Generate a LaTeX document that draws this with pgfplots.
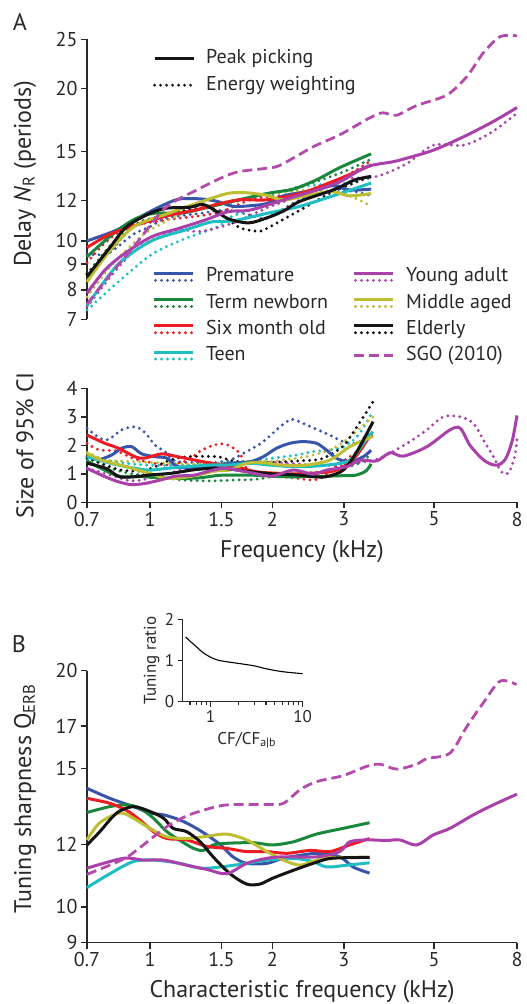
\documentclass[border=0pt]{standalone}
\usepackage{fontspec}
\setmainfont{PT Sans}
\usepackage{pgfplots}
\pgfplotsset{compat=1.18}

\definecolor{cpre}{RGB}{55,85,170}
\definecolor{cterm}{RGB}{25,135,60}
\definecolor{csix}{RGB}{237,28,36}
\definecolor{cteen}{RGB}{30,190,195}
\definecolor{cyoung}{RGB}{170,65,170}
\definecolor{cmid}{RGB}{190,190,50}
\definecolor{celd}{RGB}{20,20,20}
\definecolor{csgo}{RGB}{180,75,170}
\definecolor{axc}{RGB}{40,40,40}

\tikzset{
 sol/.style={line width=3pt, solid},
 dotl/.style={line width=3.2pt, line cap=round, dash pattern=on 0pt off 6pt},
 dsh/.style={line width=2.8pt, dash pattern=on 10pt off 5pt},
}

\pgfplotsset{
 mylook/.style={scale only axis, clip=false,
   axis line style={line width=1.4pt, axc}, tick style={line width=1.4pt, axc},
   major tick length=6pt, tick align=outside, minor tick length=0pt,
   tick label style={font=\fontsize{20}{22}\selectfont, text=axc},
   every axis label/.append style={font=\fontsize{24}{26}\selectfont, text=axc},
 },
}

\newcommand{\dbl}[1]{\addlegendimage{legend image code/.code={\draw[#1,sol] (0pt,3.4pt)--(39pt,3.4pt); \draw[#1,dotl] (1pt,-3.4pt)--(39pt,-3.4pt);}}}
\newcommand{\sgl}[1]{\addlegendimage{legend image code/.code={\draw[#1] (0pt,0pt)--(39pt,0pt);}}}

\begin{document}
\begin{tikzpicture}
\useasboundingbox (0,0) rectangle (527pt,-1004pt);

\node[font=\fontsize{24}{26}\selectfont, text=axc] at (20pt,-22pt) {A};
\node[font=\fontsize{24}{26}\selectfont, text=axc] at (19pt,-644pt) {B};

\begin{axis}[mylook, xmode=log, xmin=0.7, xmax=8,
  at={(87pt,-319.3pt)}, anchor=south west, width=430pt, height=280pt,
  ymode=log, ymin=7, ymax=25, hide x axis, axis y line*=left,
  ytick={7,8,9,10,12,15,20,25}, yticklabels={7,8,9,10,12,15,20,25},
  ylabel={Delay \textit{N}\textsubscript{R} (periods)},
  ylabel style={at={(axis description cs:-0.144,0.52)}, anchor=center}]
\addplot[cpre, dotl, smooth] coordinates {(0.7,9.4)(0.79,9.45)(0.909,10.3)(1.0,10.66)(1.1,11.1)(1.33,11.33)(1.545,11.5)(1.8,11.2)(1.94,11.1)(2.34,12.05)(2.82,12.6)(3.2,12.5)(3.5,12.27)};
\addplot[cterm, dotl, smooth] coordinates {(0.7,8.6)(0.8,9.8)(0.9,10.6)(1.0,11.0)(1.2,11.4)(1.5,11.8)(2,12.4)(2.5,13.0)(3,13.7)(3.5,14.5)};
\addplot[csix, dotl, smooth] coordinates {(0.7,9.05)(0.775,9.9)(0.885,10.66)(1.1,11.0)(1.46,11.35)(1.8,12.1)(2.34,12.4)(2.82,12.98)(3.5,14.4)};
\addplot[cteen, dotl, smooth] coordinates {(0.7,7.3)(0.836,8.3)(1.01,9.4)(1.22,10.1)(1.47,10.66)(1.6,11.2)(2.0,11.85)(2.3,12.7)(2.6,12.9)(3.0,13.0)(3.5,13.3)};
\addplot[cmid, dotl, smooth] coordinates {(0.7,7.75)(0.8,8.9)(0.9,9.8)(1.0,10.5)(1.2,11.3)(1.5,11.9)(2.0,12.4)(2.5,12.6)(3.0,12.4)(3.5,11.7)};
\addplot[celd, dotl, smooth] coordinates {(0.7,8.6)(0.79,9.45)(0.919,10.75)(1.06,11.2)(1.22,11.5)(1.42,11.6)(1.56,11.0)(1.68,10.58)(1.85,10.45)(1.94,10.58)(2.34,11.5)(2.82,12.5)(3.5,13.4)};
\addplot[cyoung, dotl, smooth] coordinates {(0.7,7.4)(0.8,8.5)(0.893,9.38)(1.0,10.0)(1.186,10.5)(1.33,10.43)(1.6,10.84)(1.937,11.61)(2.34,12.27)(2.99,13.21)(3.61,13.4)(4.28,14.2)(4.98,15.45)(5.91,15.45)(6.86,16.3)(8.0,17.86)};
\addplot[cpre, sol, smooth] coordinates {(0.7,10.0)(0.828,10.5)(0.982,11.33)(1.1,11.85)(1.186,12.1)(1.33,12.1)(1.46,11.97)(1.6,11.7)(1.763,11.73)(1.94,11.85)(2.13,12.27)(2.57,12.6)(2.82,12.85)(3.1,12.6)(3.5,12.65)};
\addplot[cterm, sol, smooth] coordinates {(0.7,9.3)(0.797,10.2)(0.909,11.0)(1.02,11.33)(1.2,11.35)(1.36,11.6)(1.6,11.97)(1.94,12.4)(2.25,12.65)(2.57,13.2)(2.93,13.95)(3.5,14.85)};
\addplot[csix, sol, smooth] coordinates {(0.7,9.7)(0.797,10.3)(0.945,10.8)(1.1,11.2)(1.29,11.5)(1.46,11.8)(1.665,12.05)(1.94,12.05)(2.34,12.4)(2.82,13.1)(3.5,14.1)};
\addplot[cteen, sol, smooth] coordinates {(0.7,7.45)(0.836,9.0)(1.01,10.0)(1.22,10.5)(1.42,10.9)(1.6,10.95)(1.94,11.33)(2.34,11.7)(2.82,12.27)(3.5,13.0)};
\addplot[cmid, sol, smooth] coordinates {(0.7,8.3)(0.8,9.6)(0.919,10.7)(1.11,11.33)(1.34,11.95)(1.55,12.4)(1.71,12.45)(1.94,12.3)(2.13,12.05)(2.57,12.4)(2.82,12.5)(3.1,12.27)(3.5,12.4)};
\addplot[celd, sol, smooth] coordinates {(0.7,8.5)(0.797,9.7)(0.876,10.66)(1.0,11.33)(1.1,11.6)(1.25,11.65)(1.35,11.8)(1.44,11.5)(1.56,11.05)(1.75,10.85)(1.94,11.1)(2.13,11.45)(2.34,11.97)(2.82,12.6)(3.2,13.2)(3.5,13.4)};
\addplot[cyoung, sol, smooth] coordinates {(0.7,7.88)(0.775,8.76)(0.868,9.45)(1.01,10.19)(1.177,10.58)(1.366,10.99)(1.559,11.42)(1.763,11.5)(2.128,12.04)(2.57,12.6)(2.93,13.08)(3.414,14.0)(3.97,14.33)(4.28,14.56)(4.98,15.1)(5.91,16.05)(6.99,17.2)(8.0,18.33)};
\addplot[csgo, dsh, smooth] coordinates {(0.7,7.5)(0.797,8.56)(0.919,9.81)(1.089,11.6)(1.303,12.6)(1.601,13.6)(1.919,13.9)(2.09,14.1)(2.519,15.33)(2.933,16.2)(3.477,17.5)(3.74,17.9)(4.04,17.7)(4.53,18.5)(5.37,19.4)(6.02,21.1)(6.61,23.5)(7.27,25.3)(8.0,25.4)};
\end{axis}

\begin{axis}[mylook, xmode=log, xmin=0.7, xmax=8,
  at={(87pt,-502.3pt)}, anchor=south west, width=430pt, height=114pt,
  ymin=0, ymax=4, axis x line*=bottom, axis y line*=left,
  xtick={0.7,1,1.5,2,3,5,8}, xticklabels={0.7,1,1.5,2,3,5,8},
  ytick={0,1,2,3,4}, yticklabels={0,1,2,3,4},
  xlabel={Frequency (kHz)}, ylabel={Size of 95\% CI},
  ylabel style={at={(axis description cs:-0.144,0.5)}, anchor=center},
  xlabel style={at={(axis description cs:0.5,-0.436)}, anchor=center}]
\addplot[cpre, dotl, smooth] coordinates {(0.7,2.6)(0.753,2.25)(0.79,2.2)(0.852,2.54)(0.919,2.65)(0.972,2.45)(1.03,2.0)(1.09,1.78)(1.15,1.45)(1.3,1.4)(1.45,1.4)(1.574,1.48)(1.73,1.78)(1.9,2.13)(2.09,2.65)(2.23,2.91)(2.38,2.77)(2.57,2.56)(2.77,2.36)(2.99,2.13)(3.23,2.07)(3.35,2.25)(3.5,2.4)};
\addplot[cterm, dotl, smooth] coordinates {(0.7,1.6)(0.8,1.2)(0.9,1.0)(1.0,0.95)(1.1,0.85)(1.2,0.78)(1.4,0.75)(1.6,0.78)(1.8,0.8)(2.0,0.9)(2.3,1.0)(2.6,1.07)(3.0,1.2)(3.3,1.4)(3.5,1.7)};
\addplot[csix, dotl, smooth] coordinates {(0.7,2.07)(0.75,1.84)(0.828,1.8)(0.908,1.54)(1.0,1.4)(1.1,1.31)(1.23,1.46)(1.33,1.8)(1.43,2.0)(1.5,2.05)(1.56,2.0)(1.665,1.72)(1.73,1.19)(1.9,1.0)(2.1,0.9)(2.3,0.84)(2.52,0.78)(2.67,0.9)(2.93,1.37)(3.23,1.78)(3.5,2.42)};
\addplot[cteen, dotl, smooth] coordinates {(0.7,1.5)(0.8,1.45)(0.9,1.35)(1.0,1.3)(1.2,1.3)(1.4,1.35)(1.6,1.4)(1.8,1.45)(2.0,1.55)(2.3,1.66)(2.52,1.78)(2.77,1.84)(3.0,1.95)(3.23,2.3)(3.4,2.77)(3.54,3.2)};
\addplot[cmid, dotl, smooth] coordinates {(0.7,1.75)(0.775,1.5)(0.85,1.45)(1.0,1.4)(1.2,1.35)(1.4,1.35)(1.6,1.4)(1.8,1.45)(2.0,1.45)(2.3,1.55)(2.52,1.66)(2.77,1.84)(3.0,2.13)(3.35,2.7)(3.54,3.0)};
\addplot[celd, dotl, smooth] coordinates {(0.7,1.55)(0.78,1.3)(0.85,1.13)(0.95,1.1)(1.03,1.25)(1.12,1.48)(1.23,1.6)(1.47,1.6)(1.6,1.45)(1.8,1.4)(2.0,1.4)(2.3,1.45)(2.6,1.5)(2.77,1.66)(3.0,2.0)(3.23,2.65)(3.54,3.53)};
\addplot[cyoung, dotl, smooth] coordinates {(0.7,1.2)(0.8,0.95)(0.9,0.75)(1.0,0.85)(1.1,1.0)(1.25,1.2)(1.5,1.3)(1.8,1.4)(2.0,1.4)(2.3,1.35)(2.6,1.3)(3.0,1.3)(3.3,1.4)(3.6,1.5)(3.96,1.78)(4.36,2.13)(4.8,2.54)(5.27,3.0)(5.8,3.0)(6.25,2.77)(6.61,2.19)(7.0,1.6)(7.33,1.07)(7.62,1.02)(7.9,1.6)(8.0,2.25)};
\addplot[cpre, sol, smooth] coordinates {(0.7,1.65)(0.746,1.5)(0.805,1.66)(0.852,1.9)(0.902,1.95)(0.954,1.7)(1.03,1.6)(1.1,1.55)(1.17,1.25)(1.3,1.2)(1.45,1.3)(1.574,1.37)(1.76,1.42)(1.9,1.6)(2.05,1.9)(2.21,2.07)(2.38,2.13)(2.57,2.07)(2.72,1.83)(2.88,1.54)(3.1,1.42)(3.35,1.6)(3.5,1.83)};
\addplot[cterm, sol, smooth] coordinates {(0.7,1.45)(0.78,1.1)(0.85,0.9)(0.95,0.9)(1.1,0.85)(1.3,0.85)(1.5,0.95)(1.8,0.95)(2.1,0.9)(2.5,0.9)(2.9,0.93)(3.2,0.95)(3.4,1.1)(3.5,1.35)};
\addplot[csix, sol, smooth] coordinates {(0.7,2.36)(0.775,2.07)(0.836,1.9)(0.919,1.6)(0.97,1.55)(1.07,1.7)(1.17,1.6)(1.29,1.48)(1.42,1.37)(1.62,1.25)(1.83,1.07)(2.05,1.02)(2.3,1.0)(2.77,1.07)(2.99,1.25)(3.23,1.66)(3.45,2.25)(3.54,2.36)};
\addplot[cteen, sol, smooth] coordinates {(0.7,1.6)(0.8,1.37)(0.92,1.19)(1.0,1.13)(1.1,1.19)(1.23,1.25)(1.42,1.31)(1.57,1.31)(1.76,1.37)(2.0,1.3)(2.3,1.25)(2.7,1.3)(3.1,1.48)(3.4,2.2)(3.54,2.48)};
\addplot[cmid, sol, smooth] coordinates {(0.7,1.72)(0.76,1.48)(0.85,1.3)(0.95,1.1)(1.0,1.02)(1.1,0.84)(1.25,0.9)(1.45,1.1)(1.57,1.13)(1.73,1.37)(1.9,1.39)(2.09,1.31)(2.4,1.3)(2.77,1.48)(3.1,1.95)(3.45,2.25)(3.54,2.3)};
\addplot[celd, sol, smooth] coordinates {(0.7,1.37)(0.78,1.19)(0.84,0.9)(0.92,0.9)(1.0,0.96)(1.13,1.02)(1.3,1.15)(1.5,1.2)(1.7,1.1)(2.0,1.0)(2.3,0.96)(2.52,0.9)(2.72,0.9)(2.99,1.13)(3.23,1.78)(3.54,2.83)};
\addplot[cyoung, sol, smooth] coordinates {(0.7,1.19)(0.775,0.9)(0.836,0.72)(0.9,0.62)(0.97,0.66)(1.06,0.78)(1.16,0.92)(1.28,0.95)(1.43,1.13)(1.545,1.19)(1.8,1.02)(2.0,0.92)(2.25,1.13)(2.52,0.99)(2.72,1.13)(3.05,1.25)(3.29,1.48)(3.61,1.45)(3.9,1.74)(4.2,1.62)(4.8,1.95)(5.47,2.54)(5.8,2.6)(6.13,2.0)(6.6,1.5)(7.0,1.31)(7.3,1.35)(7.55,1.6)(7.8,2.2)(8.0,3.05)};
\end{axis}

\begin{axis}[mylook, xmode=log, xmin=0.7, xmax=8,
  at={(87pt,-942.7pt)}, anchor=south west, width=430pt, height=272pt,
  ymode=log, ymin=9, ymax=20, axis x line*=bottom, axis y line*=left,
  xtick={0.7,1,1.5,2,3,5,8}, xticklabels={0.7,1,1.5,2,3,5,8},
  ytick={9,10,12,15,17,20}, yticklabels={9,10,12,15,17,20},
  xlabel={Characteristic frequency (kHz)}, ylabel={Tuning sharpness Q\textsubscript{ERB}},
  ylabel style={at={(axis description cs:-0.144,0.53)}, anchor=center},
  xlabel style={at={(axis description cs:0.5,-0.181)}, anchor=center}]
\addplot[cpre, sol, smooth] coordinates {(0.7,14.16)(0.797,13.75)(0.91,13.42)(1.0,13.17)(1.08,13.1)(1.186,12.9)(1.28,12.65)(1.38,12.35)(1.49,12.0)(1.6,11.58)(1.73,11.36)(1.94,11.36)(2.13,11.53)(2.57,11.7)(2.93,11.58)(3.16,11.24)(3.47,11.04)};
\addplot[cterm, sol, smooth] coordinates {(0.7,13.19)(0.797,13.42)(0.876,13.49)(0.945,13.35)(1.02,12.97)(1.1,12.47)(1.186,12.15)(1.28,11.87)(1.353,11.8)(1.43,11.99)(1.545,12.05)(1.8,12.07)(2.0,11.99)(2.25,12.1)(2.57,12.38)(2.99,12.59)(3.47,12.8)};
\addplot[csix, sol, smooth] coordinates {(0.7,13.75)(0.797,13.55)(0.876,13.27)(0.945,12.9)(1.02,12.47)(1.1,12.22)(1.23,12.17)(1.38,11.94)(1.545,11.87)(1.73,11.76)(1.94,11.76)(2.17,11.7)(2.48,11.8)(2.77,11.76)(3.1,11.99)(3.47,12.22)};
\addplot[cteen, sol, smooth] coordinates {(0.7,10.58)(0.797,11.02)(0.91,11.42)(1.02,11.47)(1.186,11.36)(1.33,11.2)(1.49,11.24)(1.73,11.36)(1.94,11.47)(2.25,11.53)(2.52,11.42)(2.72,11.24)(3.05,11.3)(3.47,11.38)};
\addplot[cmid, sol, smooth] coordinates {(0.7,12.17)(0.753,12.8)(0.844,13.17)(0.91,12.97)(1.0,12.59)(1.1,12.28)(1.23,12.22)(1.38,12.3)(1.545,12.38)(1.73,12.17)(1.94,11.76)(2.13,11.47)(2.34,11.3)(2.57,11.47)(2.8,11.56)(3.47,11.56)};
\addplot[celd, sol, smooth] coordinates {(0.7,11.99)(0.753,12.47)(0.828,13.17)(0.91,13.42)(1.0,13.23)(1.08,12.97)(1.14,12.59)(1.23,12.47)(1.33,12.1)(1.43,11.58)(1.574,11.02)(1.73,10.69)(1.865,10.69)(2.0,10.87)(2.21,11.09)(2.52,11.36)(2.8,11.53)(3.47,11.56)};
\addplot[cyoung, sol, smooth] coordinates {(0.7,11.2)(0.86,11.53)(0.963,11.47)(1.08,11.47)(1.23,11.3)(1.38,11.16)(1.545,11.02)(1.73,11.36)(1.94,11.53)(2.13,11.58)(2.57,11.58)(2.93,11.76)(3.1,12.1)(3.41,12.17)(3.82,12.15)(4.12,12.17)(4.53,11.99)(4.98,12.35)(5.47,12.59)(6.25,13.1)(7.0,13.49)(8.0,13.92)};
\addplot[csgo, dsh, smooth] coordinates {(0.7,11.0)(0.86,11.5)(0.945,11.9)(1.10,12.65)(1.25,13.1)(1.46,13.42)(1.6,13.5)(1.94,13.5)(2.13,13.55)(2.34,14.1)(2.57,14.44)(2.99,14.7)(3.41,15.1)(3.68,15.2)(4.05,14.98)(4.53,15.2)(4.8,15.45)(5.47,15.7)(6.02,16.97)(6.61,18.2)(7.27,19.4)(7.98,19.2)};
\end{axis}

\begin{axis}[scale only axis, at={(182.7pt,-701.7pt)}, anchor=south west, width=120pt, height=82.4pt,
  xmode=log, xmin=0.5, xmax=10, ymin=0, ymax=2, clip=false,
  axis x line*=bottom, axis y line*=left,
  axis line style={line width=1.1pt, axc}, tick style={line width=1.1pt, axc},
  tick align=outside, major tick length=5pt, minor tick length=3.5pt,
  xtick={1,10}, xticklabels={1,10}, minor xtick={0.6,0.7,0.8,0.9,2,3,4,5,6,7,8,9},
  ytick={0,1,2}, yticklabels={0,1,2},
  tick label style={font=\fontsize{17}{19}\selectfont, text=axc},
  every axis label/.append style={font=\fontsize{17}{19}\selectfont, text=axc},
  xlabel={CF/CF\textsubscript{a|b}}, ylabel={Tuning ratio},
  ylabel style={at={(axis description cs:-0.258,0.5)}, anchor=center},
  xlabel style={at={(axis description cs:0.533,-0.465)}, anchor=center}]
\addplot[black, line width=1.1pt, smooth] coordinates {(0.54,1.57)(0.6,1.47)(0.7,1.34)(0.8,1.22)(0.9,1.14)(1.0,1.08)(1.2,1.01)(1.5,0.97)(2,0.93)(3,0.87)(4,0.8)(6,0.73)(10,0.68)};
\end{axis}

\begin{axis}[at={(0pt,-1004pt)}, anchor=south west, scale only axis,
   width=527pt, height=1004pt, hide axis, xmin=0, xmax=1, ymin=0, ymax=1,
   legend cell align=left,
   legend style={at={(0.2903,0.9502)}, anchor=north west, draw=none, fill=none, inner sep=0pt, outer sep=0pt, row sep=8.2pt,
     font=\fontsize{20}{22}\selectfont, text=axc,
     nodes={inner sep=0pt, text height=14pt, text depth=4pt, anchor=west},
     /tikz/every odd column/.append style={column sep=11pt}}]
\sgl{celd,sol}\addlegendentry{Peak picking}
\sgl{celd,dotl}\addlegendentry{Energy weighting}
\end{axis}
\begin{axis}[at={(0pt,-1004pt)}, anchor=south west, scale only axis,
   width=527pt, height=1004pt, hide axis, xmin=0, xmax=1, ymin=0, ymax=1,
   legend cell align=left,
   legend style={at={(0.2903,0.7331)}, anchor=north west, draw=none, fill=none, inner sep=0pt, outer sep=0pt, row sep=8.2pt,
     font=\fontsize{20}{22}\selectfont, text=axc,
     nodes={inner sep=0pt, text height=14pt, text depth=4pt, anchor=west},
     /tikz/every odd column/.append style={column sep=11pt}}]
\dbl{cpre}\addlegendentry{Premature}
\dbl{cterm}\addlegendentry{Term newborn}
\dbl{csix}\addlegendentry{Six month old}
\dbl{cteen}\addlegendentry{Teen}
\end{axis}
\begin{axis}[at={(0pt,-1004pt)}, anchor=south west, scale only axis,
   width=527pt, height=1004pt, hide axis, xmin=0, xmax=1, ymin=0, ymax=1,
   legend cell align=left,
   legend style={at={(0.6698,0.7331)}, anchor=north west, draw=none, fill=none, inner sep=0pt, outer sep=0pt, row sep=8.2pt,
     font=\fontsize{20}{22}\selectfont, text=axc,
     nodes={inner sep=0pt, text height=14pt, text depth=4pt, anchor=west},
     /tikz/every odd column/.append style={column sep=11pt}}]
\dbl{cyoung}\addlegendentry{Young adult}
\dbl{cmid}\addlegendentry{Middle aged}
\dbl{celd}\addlegendentry{Elderly}
\sgl{csgo,dsh}\addlegendentry{SGO (2010)}
\end{axis}
\end{tikzpicture}
\end{document}
